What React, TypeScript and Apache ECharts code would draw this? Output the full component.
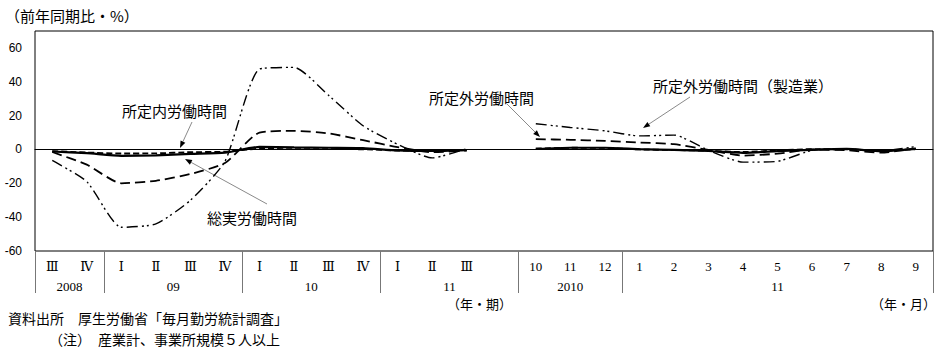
import React, { useEffect, useRef } from 'react';
import * as echarts from 'echarts';

// ---- categories (quarterly 2008III–2011III, a blank gap, then monthly 2010/10–2011/9)
const periodLabels = ['Ⅲ', 'Ⅳ', 'Ⅰ', 'Ⅱ', 'Ⅲ', 'Ⅳ', 'Ⅰ', 'Ⅱ', 'Ⅲ', 'Ⅳ', 'Ⅰ', 'Ⅱ', 'Ⅲ', '', '10', '11', '12', '1', '2', '3', '4', '5', '6', '7', '8', '9'];

// year row: names and their centre positions on a half-cell grid (0..52)
const yearNames = ['2008', '09', '10', '11', '2010', '11'];
const yearCentres = [2, 8, 16, 24, 31, 43];
const yearSeparators = [0, 4, 12, 20, 28, 34, 52];

// ---- series values (前年同期比 %)
const totalQ = [-1.2, -2.2, -3.8, -3.5, -2.6, -1.9, 1.5, 1.2, 1.0, 0.8, -0.6, -0.9, -0.4];
const totalM = [0.3, 1.0, 1.0, 0.2, -0.3, -0.9, -2.0, -1.0, -0.2, 0.3, -1.0, 0.3];
const scheduledQ = [-1.0, -1.8, -2.4, -2.3, -1.6, -1.3, 0.4, 0.2, 0.2, 0.1, -0.6, -0.8, -0.2];
const scheduledM = [0.5, 1.0, 0.9, 0.0, -0.3, -0.8, -1.5, -0.6, 0.2, 0.0, -0.8, 0.2];
const overtimeQ = [-1.5, -9, -20, -18.5, -14.5, -8, 10, 11, 9.5, 5.5, 1.4, -1.6, -0.6];
const overtimeM = [6.1, 5.7, 5.1, 4.1, 3.1, -0.3, -3.6, -2.5, 0, -0.5, -1.9, 0.7];
const mfgQ = [-6.5, -19, -46, -44, -30, -7, 47.5, 48.5, 32, 14, 3, -5, 0.5];
const mfgM = [15.2, 13, 11, 8, 8.5, -0.5, -7.5, -7, -0.5, 0.3, -0.8, 1.7];

const yTicks = [-60, -40, -20, 0, 20, 40, 60];

const JP = '"Noto Sans CJK JP", sans-serif';
const SERIF = '"Liberation Serif", "DejaVu Serif", serif';

function join(q: number[], m: number[]) {
  return [...q, null, ...m];
}

function arrow(x1: number, y1: number, x2: number, y2: number) {
  const a = Math.atan2(y2 - y1, x2 - x1);
  const L = 7, W = 2.6;
  const bx = x2 - L * Math.cos(a), by = y2 - L * Math.sin(a);
  const p1 = [bx + W * Math.sin(a), by - W * Math.cos(a)];
  const p2 = [bx - W * Math.sin(a), by + W * Math.cos(a)];
  return [
    { type: 'line', shape: { x1, y1, x2: bx, y2: by }, style: { stroke: '#8a8a8a', lineWidth: 1 }, silent: true },
    { type: 'polygon', shape: { points: [[x2, y2], p1, p2] }, style: { fill: '#000' }, silent: true },
  ];
}

function text(x: number, y: number, t: string, size = 15) {
  return {
    type: 'text', x, y,
    style: { text: t, fill: '#000', font: `${size}px ${JP}`, textVerticalAlign: 'middle' },
    silent: true,
  };
}

export default function App() {
  const ref = useRef<HTMLDivElement>(null);
  useEffect(() => {
    if (!ref.current) return;
    const chart = echarts.init(ref.current, undefined, { renderer: 'svg' });
    const yearData: string[] = [];
    for (let k = 0; k <= 52; k++) {
      const idx = yearCentres.indexOf(k);
      yearData.push(idx >= 0 ? yearNames[idx] : '');
    }
    const lineBase = { type: 'line', showSymbol: false, connectNulls: false, smooth: 0.2 };
    chart.setOption({
      animation: false,
      backgroundColor: '#fff',
      grid: { left: 35, right: 15, top: 31, bottom: 105, show: true, borderColor: '#000', borderWidth: 1, containLabel: false },
      xAxis: [
        {
          type: 'category', data: periodLabels, boundaryGap: true, position: 'bottom',
          axisLine: { show: true, lineStyle: { color: '#000', width: 1 } },
          axisTick: { show: false },
          axisLabel: { interval: 0, margin: 9, color: '#000', fontSize: 13, fontFamily: SERIF },
        },
        {
          type: 'category', data: yearData, boundaryGap: false, position: 'bottom',
          axisLine: { show: false },
          axisTick: { show: true, length: 42, interval: (i: number) => yearSeparators.includes(i), lineStyle: { color: '#777', width: 1 } },
          axisLabel: { interval: 0, margin: 29, color: '#000', fontSize: 13, fontFamily: SERIF },
        },
      ],
      yAxis: {
        type: 'value', min: -60, max: 70, interval: 20,
        axisLine: { show: false }, axisTick: { show: false }, splitLine: { show: false },
        axisLabel: {
          showMaxLabel: false, margin: 13, color: '#000', fontSize: 12, fontFamily: '"Liberation Sans", Arial, sans-serif',
          formatter: (v: number) => (yTicks.includes(v) ? String(v) : ''),
        },
      },
      series: [
        { ...lineBase, name: '総実労働時間', data: join(totalQ, totalM), lineStyle: { color: '#000', width: 2.2, type: 'solid' }, z: 5 },
        { ...lineBase, name: '所定内労働時間', data: join(scheduledQ, scheduledM), lineStyle: { color: '#000', width: 1.8, type: [6, 3] }, z: 4 },
        { ...lineBase, name: '所定外労働時間', data: join(overtimeQ, overtimeM), lineStyle: { color: '#000', width: 1.8, type: [10, 5] }, z: 3 },
        { ...lineBase, name: '所定外労働時間（製造業）', data: join(mfgQ, mfgM), lineStyle: { color: '#000', width: 1.4, type: [11, 4, 2, 3, 2, 4] }, z: 2 },
      ],
      graphic: [
        text(5, 15, '（前年同期比・%）'),
        text(122, 110, '所定内労働時間'),
        ...arrow(192, 122, 180, 148),
        text(207, 217, '総実労働時間'),
        ...arrow(267, 204, 185, 159),
        text(429, 97, '所定外労働時間'),
        ...arrow(507, 104, 540, 137),
        text(653, 85, '所定外労働時間（製造業）'),
        ...arrow(690, 97, 643, 128),
        { type: 'text', x: 512, y: 303, style: { text: '（年・期）', fill: '#000', font: `13px ${JP}`, textAlign: 'right', textVerticalAlign: 'middle' }, silent: true },
        { type: 'text', x: 936, y: 303, style: { text: '（年・月）', fill: '#000', font: `13px ${JP}`, textAlign: 'right', textVerticalAlign: 'middle' }, silent: true },
        text(8, 318, '資料出所　厚生労働省「毎月勤労統計調査」', 14),
        text(49, 339, '（注）　産業計、事業所規模５人以上', 14),
      ],
    });
    return () => chart.dispose();
  }, []);
  return <div ref={ref} style={{ position: 'fixed', left: 0, top: 0, width: 948, height: 356, background: '#fff' }} />;
}
